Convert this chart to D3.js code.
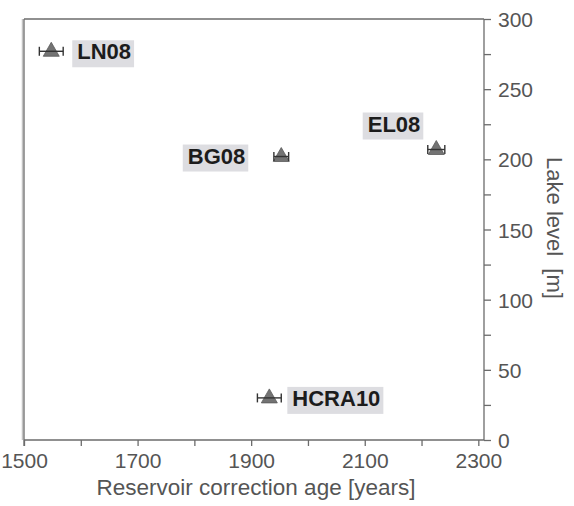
<!DOCTYPE html>
<html>
<head>
<meta charset="utf-8">
<script src="https://cdn.jsdelivr.net/npm/d3@7"></script>
<style>
  body { margin: 0; background: #fff; }
  svg { font-family: "Liberation Sans", Arial, sans-serif; }
</style>
</head>
<body>
<svg id="chart" width="574" height="506"></svg>
<script>
// Sites, reservoir age (years) with error, lake level (m)
const sites = ['LN08', 'BG08', 'EL08', 'HCRA10'];
const ageValues = [1548, 1953, 2226, 1932];
const ageErrors = [21, 13, 15, 21];
const levelValues = [277, 202, 207, 30];

const xTicks = [1500, 1700, 1900, 2100, 2300];
const yTicks = [0, 50, 100, 150, 200, 250, 300];

// Label placement relative to each point (pixels)
const labelPos = {
  LN08: { dx: 26, dy: 8, anchor: 'start' },
  BG08: { dx: -36, dy: 7, anchor: 'end' },
  EL08: { dx: -16, dy: -18, anchor: 'end' },
  HCRA10: { dx: 23, dy: 8, anchor: 'start' }
};

const svg = d3.select('#chart');
const frame = { left: 24, right: 484, top: 19, bottom: 440 };
const axisColor = '#6b6b6b';
const textColor = '#555';

const xScale = d3.scaleLinear()
  .domain([1500, 2310])
  .range([frame.left, frame.right]);

const yScale = d3.scaleLinear()
  .domain([0, 300])
  .range([frame.bottom, frame.top]);

// Frame: top line and the light part of the left double line
svg.append('line')
  .attr('x1', frame.left).attr('x2', frame.right)
  .attr('y1', frame.top).attr('y2', frame.top)
  .attr('stroke', axisColor).attr('stroke-width', 1.3);
svg.append('line')
  .attr('x1', frame.left - 1.5).attr('x2', frame.left - 1.5)
  .attr('y1', frame.top).attr('y2', frame.bottom)
  .attr('stroke', '#c4c4c4').attr('stroke-width', 1.5);

// Bottom axis
const xAxis = svg.append('g')
  .attr('transform', `translate(0, ${frame.bottom})`)
  .call(d3.axisBottom(xScale)
    .tickValues(d3.range(1500, 2301, 100))
    .tickSize(6)
    .tickFormat(d => xTicks.includes(d) ? d : ''));
xAxis.select('.domain').attr('d', `M${frame.left},0H${frame.right}`);

// Right axis
const yAxis = svg.append('g')
  .attr('transform', `translate(${frame.right}, 0)`)
  .call(d3.axisRight(yScale)
    .tickValues(d3.range(0, 301, 25))
    .tickSize(7)
    .tickFormat(d => yTicks.includes(d) ? d : ''));
yAxis.select('.domain').attr('d', `M0,${frame.top}V${frame.bottom}`);

[xAxis, yAxis].forEach(ax => {
  ax.selectAll('.domain, .tick line')
    .attr('stroke', axisColor)
    .attr('stroke-width', 1.3);
  ax.selectAll('.tick text')
    .filter(function() { return this.textContent === ''; })
    .remove();
  ax.selectAll('.tick text')
    .attr('fill', textColor)
    .style('font-size', '21px');
});
xAxis.selectAll('.tick text').attr('y', 7).attr('dy', '1.0em');
yAxis.selectAll('.tick text').attr('x', 14).attr('dy', '0.36em');

// Left dark line on top of the light one
svg.append('line')
  .attr('x1', frame.left).attr('x2', frame.left)
  .attr('y1', frame.top).attr('y2', frame.bottom + 6)
  .attr('stroke', axisColor).attr('stroke-width', 1.3);

// Axis titles
svg.append('text')
  .attr('x', (frame.left + frame.right) / 2 + 2)
  .attr('y', 495)
  .attr('text-anchor', 'middle')
  .attr('fill', textColor)
  .style('font-size', '22.5px')
  .text('Reservoir correction age [years]');

svg.append('text')
  .attr('transform', `translate(547, 228) rotate(90)`)
  .attr('text-anchor', 'middle')
  .attr('fill', textColor)
  .style('font-size', '22px')
  .text('Lake level\u00a0\u00a0[m]');

// Data
const data = sites.map((s, i) => ({
  site: s,
  age: ageValues[i],
  err: ageErrors[i],
  level: levelValues[i]
}));

const points = svg.append('g')
  .selectAll('g.point')
  .data(data)
  .join('g')
  .attr('class', 'point')
  .attr('transform', d => `translate(${xScale(d.age)}, ${yScale(d.level)})`);

// Triangle marker
points.append('path')
  .attr('d', 'M0,-9L8,5L-8,5Z')
  .attr('fill', '#737373')
  .attr('stroke', '#5a5a5a')
  .attr('stroke-width', 0.8);

// Error bars
points.append('line')
  .attr('x1', d => xScale(d.age - d.err) - xScale(d.age))
  .attr('x2', d => xScale(d.age + d.err) - xScale(d.age))
  .attr('stroke', '#333').attr('stroke-width', 1.4);
points.selectAll('line.cap')
  .data(d => [d.age - d.err, d.age + d.err].map(v => xScale(v) - xScale(d.age)))
  .join('line')
  .attr('class', 'cap')
  .attr('x1', d => d).attr('x2', d => d)
  .attr('y1', -4.5).attr('y2', 4.5)
  .attr('stroke', '#333').attr('stroke-width', 1.4);

// Site labels with grey boxes
const labels = points.append('g')
  .attr('class', 'label');
labels.each(function(d) {
  const p = labelPos[d.site];
  const g = d3.select(this);
  const rect = g.append('rect').attr('fill', '#dddde1');
  const t = g.append('text')
    .attr('x', p.dx).attr('y', p.dy)
    .attr('text-anchor', p.anchor)
    .attr('fill', '#1c1c1c')
    .style('font-size', '22px')
    .style('font-weight', 'bold')
    .text(d.site);
  const bb = t.node().getBBox();
  rect.attr('x', bb.x - 5).attr('y', bb.y + 1)
    .attr('width', bb.width + 8).attr('height', bb.height + 2);
});
</script>
</body>
</html>
